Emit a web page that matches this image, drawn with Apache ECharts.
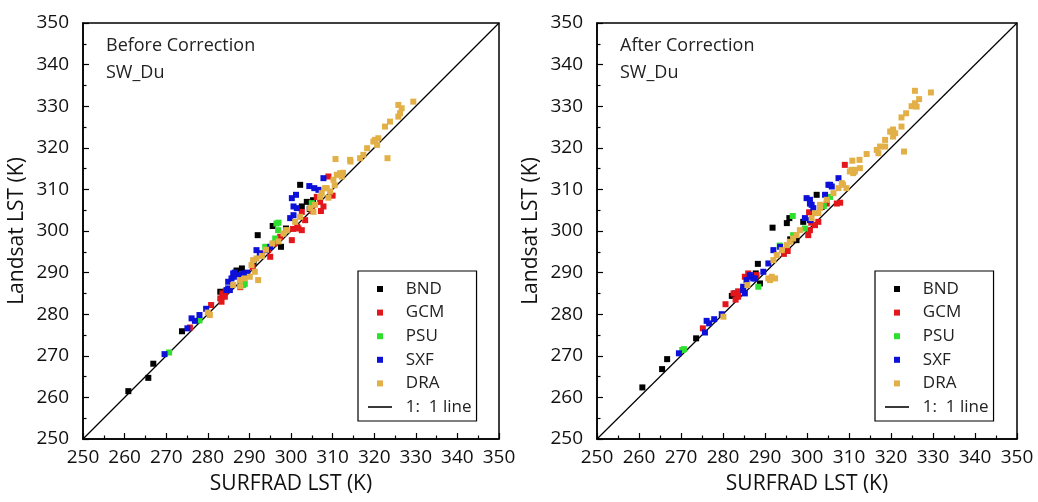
<!DOCTYPE html>
<html><head><meta charset="utf-8">
<script src="https://cdn.jsdelivr.net/npm/echarts/dist/echarts.min.js"></script>
<style>html,body{margin:0;padding:0;background:#fff}#c{width:1038px;height:502px}</style>
</head><body><div id="c"></div>
<script>
// ---- data ----
const siteNames = ['BND', 'GCM', 'PSU', 'SXF', 'DRA'];
const lineName = '1:  1 line';
const panelTitles = ['Before Correction\nSW_Du', 'After Correction\nSW_Du'];
const xAxisTitle = 'SURFRAD LST (K)';
const yAxisTitle = 'Landsat LST (K)';
const axisMin = 250, axisMax = 350, axisStep = 10;
const oneToOneLine = [[250, 250], [350, 350]];

const beforeBND = [[260.9,261.5],[265.7,264.7],[266.9,268.1],[273.8,275.9],[283.0,285.4],[286.9,290.5],[288.2,291.0],[291.0,292.2],[292.0,299.0],[295.6,301.2],[297.6,296.2],[298.8,300.6],[302.2,311.1],[303.8,307.0],[305.3,307.4],[302.6,305.9],[304.5,305.3]];
const beforeGCM = [[275.7,276.8],[280.8,282.2],[283.0,283.8],[283.5,285.0],[284.1,284.2],[283.3,283.0],[284.3,285.5],[287.8,286.5],[290.8,291.3],[293.0,294.6],[294.5,295.4],[295.0,293.8],[296.0,297.0],[297.4,298.6],[300.2,297.8],[300.5,300.5],[301.5,301.0],[301.8,300.6],[302.6,300.2],[302.6,304.6],[303.4,302.6],[305.0,304.8],[306.2,308.2],[307.0,307.0],[307.8,305.9],[307.2,304.8],[309.0,313.1],[310.0,308.5]];
const beforePSU = [[270.7,270.8],[278.0,278.5],[288.5,287.0],[288.9,287.3],[293.8,296.2],[296.2,298.2],[296.9,300.2],[296.5,301.8],[297.0,302.0],[298.8,300.2],[305.0,306.7]];
const beforeSXF = [[269.6,270.4],[275.1,276.6],[276.1,279.0],[276.9,278.4],[278.0,279.8],[279.6,281.3],[284.9,286.2],[284.5,285.8],[285.3,285.8],[285.7,288.6],[284.9,287.8],[286.1,289.8],[286.5,289.0],[287.3,289.4],[288.5,289.8],[286.5,290.0],[289.5,290.0],[291.7,295.4],[292.5,294.6],[294.2,295.4],[295.0,296.2],[299.8,303.1],[300.6,303.8],[300.6,305.9],[301.4,305.5],[300.2,307.9],[301.2,308.7],[304.4,310.8],[305.6,310.3],[306.6,309.9],[307.8,312.7]];
const beforeDRA = [[280.5,279.8],[280.0,280.4],[286.1,287.0],[287.7,288.2],[288.9,288.6],[290.1,289.0],[287.8,286.7],[291.3,290.2],[292.1,288.2],[290.5,291.8],[290.9,293.0],[291.7,293.4],[293.0,294.0],[294.0,295.5],[295.5,297.0],[297.0,297.5],[298.2,299.4],[299.0,300.2],[301.0,302.2],[302.2,303.4],[304.6,305.5],[305.4,304.6],[305.8,306.3],[307.0,308.2],[307.4,309.1],[308.2,310.3],[308.6,310.3],[309.4,309.5],[309.0,308.0],[310.5,311.0],[310.2,312.3],[311.0,313.5],[311.8,313.9],[312.2,313.1],[312.5,314.0],[310.7,317.3],[314.2,317.1],[314.3,316.7],[316.6,317.5],[317.4,318.3],[318.3,319.9],[319.8,321.5],[320.2,321.9],[321.0,322.3],[320.7,320.7],[323.2,317.5],[322.6,325.1],[323.8,326.3],[325.8,327.5],[326.2,328.3],[326.6,329.5],[325.8,330.3],[329.4,331.1]];

const afterBND = [[260.8,262.4],[265.5,266.8],[266.7,269.2],[273.6,274.2],[282.1,284.4],[282.9,285.0],[287.8,289.8],[288.3,292.1],[288.8,287.4],[291.8,300.8],[295.2,301.9],[295.8,303.1],[296.0,298.0],[297.5,297.8],[299.1,302.2],[302.3,308.7],[303.5,305.8]];
const afterGCM = [[275.2,276.6],[280.6,282.4],[282.5,285.0],[283.6,284.2],[283.0,283.5],[283.6,285.5],[286.0,289.8],[285.2,289.0],[288.0,289.4],[294.5,294.5],[295.4,295.2],[300.3,299.0],[300.7,300.2],[300.5,304.5],[301.0,302.0],[301.9,301.4],[302.7,302.2],[304.7,306.6],[307.1,306.6],[307.9,306.8],[309.0,315.9]];
const afterPSU = [[270.3,271.4],[270.7,271.6],[288.4,286.6],[293.5,296.5],[296.6,303.6],[296.7,299.0],[299.5,300.6],[304.0,306.0],[305.5,308.2]];
const afterSXF = [[269.5,270.6],[275.7,275.6],[276.1,278.4],[276.7,277.8],[277.9,278.8],[279.7,280.0],[284.8,285.8],[285.2,285.0],[284.8,286.6],[285.6,288.2],[286.4,289.0],[287.2,288.6],[286.4,289.4],[287.6,288.6],[289.6,290.2],[290.8,292.2],[292.0,295.4],[293.6,296.2],[299.5,303.1],[300.7,302.6],[300.7,307.5],[301.1,306.3],[301.5,305.5],[299.9,307.9],[300.7,306.6],[304.3,308.7],[305.1,311.1],[305.9,310.7],[305.5,311.1],[307.5,312.7]];
const afterDRA = [[280.1,279.4],[285.8,287.0],[291.2,288.2],[292.4,288.6],[290.8,288.6],[291.6,289.0],[292.0,293.0],[292.8,294.2],[294.0,295.4],[295.2,296.6],[295.9,297.4],[296.7,298.2],[297.5,299.0],[298.3,300.2],[301.1,303.1],[301.9,304.3],[302.7,304.3],[303.1,305.5],[303.1,306.3],[304.7,307.5],[306.3,309.1],[307.5,310.3],[308.3,311.5],[308.6,311.1],[309.4,310.3],[310.2,314.3],[310.6,314.7],[311.0,313.9],[311.4,314.3],[312.6,315.1],[311.4,314.7],[310.8,316.9],[312.5,317.1],[314.2,318.5],[316.6,319.5],[317.0,318.7],[317.4,320.3],[318.6,320.3],[318.6,321.9],[319.8,323.9],[320.2,323.9],[320.5,324.4],[320.5,322.7],[321.0,323.5],[322.5,325.1],[323.1,319.1],[322.5,327.3],[323.6,328.3],[324.9,330.0],[325.7,330.7],[326.1,329.9],[326.7,331.7],[325.7,333.7],[329.5,333.3]];

// ---- styling ----
const FONT = '"Open Sans", "Noto Sans", sans-serif';
const siteColors = ['#000000', '#e3171b', '#2ee02e', '#0c10d8', '#e3b048'];
const panels = [
  [beforeBND, beforeGCM, beforePSU, beforeSXF, beforeDRA],
  [afterBND, afterGCM, afterPSU, afterSXF, afterDRA]
];
const grids = [
  {left: 83, top: 23, width: 416, height: 416},
  {left: 597, top: 23, width: 420, height: 416}
];
const legendPos = [{left: 358, top: 271}, {left: 875, top: 271}];
const titlePos = [{left: 106, top: 32}, {left: 620, top: 32}];

function makeAxis(i, isY) {
  return {
    type: 'value', gridIndex: i, min: axisMin, max: axisMax, interval: axisStep,
    name: isY ? yAxisTitle : xAxisTitle,
    nameLocation: 'middle',
    nameGap: isY ? 55 : 35,
    nameTextStyle: {fontSize: 21, color: '#111', fontFamily: FONT},
    axisLine: {show: true, onZero: false, lineStyle: {color: '#000', width: 1.5}},
    axisTick: {show: true, inside: true, length: 6, lineStyle: {color: '#000', width: 1.2}},
    minorTick: {show: true, splitNumber: 2, length: 3.5, lineStyle: {color: '#000', width: 1.2}},
    axisLabel: {fontSize: 19, color: '#111', fontFamily: FONT, margin: isY ? 14 : 9},
    splitLine: {show: false}
  };
}

const series = [];
for (let p = 0; p < 2; p++) {
  series.push({
    name: lineName, type: 'line', xAxisIndex: p, yAxisIndex: p,
    data: oneToOneLine, symbol: 'none', showSymbol: false, silent: true,
    lineStyle: {color: '#000', width: 1.2}, itemStyle: {color: '#000'}, z: 1
  });
  siteNames.forEach((n, k) => {
    series.push({
      name: n, type: 'scatter', xAxisIndex: p, yAxisIndex: p,
      data: panels[p][k], symbol: 'rect', symbolSize: 6,
      itemStyle: {color: siteColors[k], opacity: 1}, z: 2 + k
    });
  });
}

const option = {
  animation: false,
  backgroundColor: '#fff',
  grid: grids.map(g => Object.assign({show: true, borderColor: '#000', borderWidth: 1.5, backgroundColor: 'transparent'}, g)),
  xAxis: [makeAxis(0, false), makeAxis(1, false)],
  yAxis: [makeAxis(0, true), makeAxis(1, true)],
  title: titlePos.map((t, i) => ({
    text: panelTitles[i], left: t.left, top: t.top, padding: 0,
    textStyle: {fontSize: 18, fontWeight: 'normal', lineHeight: 27, color: '#222', fontFamily: FONT}
  })),
  legend: legendPos.map(l => ({
    left: l.left, top: l.top, orient: 'vertical',
    padding: [8, 5, 4, 10], itemWidth: 24, itemHeight: 6, itemGap: 3.6,
    borderColor: '#000', borderWidth: 1.2, backgroundColor: '#fff',
    selectedMode: false, symbolKeepAspect: true,
    formatter: name => '  ' + name,
    textStyle: {fontSize: 17, color: '#222', fontFamily: FONT, lineHeight: 20},
    data: siteNames.map(n => ({name: n, icon: 'path://M0,0H10V10H0Z'}))
      .concat([{name: lineName, icon: 'path://M0,0H20V1.3H0Z', itemStyle: {color: '#000'}}])
  })),
  series: series
};
const chart = echarts.init(document.getElementById('c'), null, {renderer: 'canvas'});
chart.setOption(option);
</script>
</body></html>
